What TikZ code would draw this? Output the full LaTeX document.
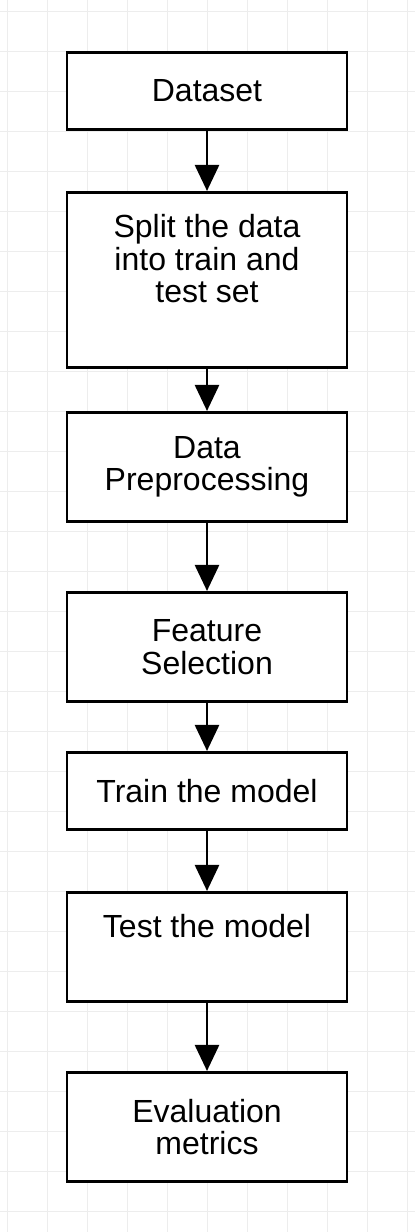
\documentclass[tikz,border=0pt]{standalone}
\usepackage{fontspec}
\setmainfont{Liberation Sans}
\usetikzlibrary{arrows.meta}

\begin{document}
\begin{tikzpicture}[
  x=1pt,y=-1pt,
  gridline/.style={draw=black!7, line width=0.8pt},
  box/.style={draw=black, fill=white, line width=2.6pt, minimum width=280pt,
    align=center, inner sep=0pt, font=\fontsize{32}{32.5}\selectfont},
  arrow/.style={-{Triangle[length=26pt,width=24pt]}, line width=2.6pt, draw=black}
]
  \useasboundingbox (0,0) rectangle (415,1232);
  \fill[white] (0,0) rectangle (415,1232);
  % background grid
  \foreach \gx in {7,47,...,407} \draw[gridline] (\gx,0) -- (\gx,1232);
  \foreach \gy in {11,51,...,1211} \draw[gridline] (0,\gy) -- (415,\gy);

  \node[box, minimum height=77.5pt] (dataset) at (207,91) {Dataset};
  \node[box, minimum height=175.5pt] (split) at (207,280)
    {Split the data\\into train and\\test set\\ \strut};
  \node[box, minimum height=109.5pt] (prep) at (207,467) {Data\\Preprocessing};
  \node[box, minimum height=109.5pt] (feat) at (207,647) {Feature\\Selection};
  \node[box, minimum height=77.5pt] (train) at (207,791) {Train the model};
  \node[box, minimum height=109.5pt] (test) at (207,947) {Test the model\\ \strut};
  \node[box, minimum height=109.5pt] (eval) at (207,1127) {Evaluation\\metrics};

  \draw[arrow] (dataset) -- (split);
  \draw[arrow] (split) -- (prep);
  \draw[arrow] (prep) -- (feat);
  \draw[arrow] (feat) -- (train);
  \draw[arrow] (train) -- (test);
  \draw[arrow] (test) -- (eval);
\end{tikzpicture}
\end{document}
